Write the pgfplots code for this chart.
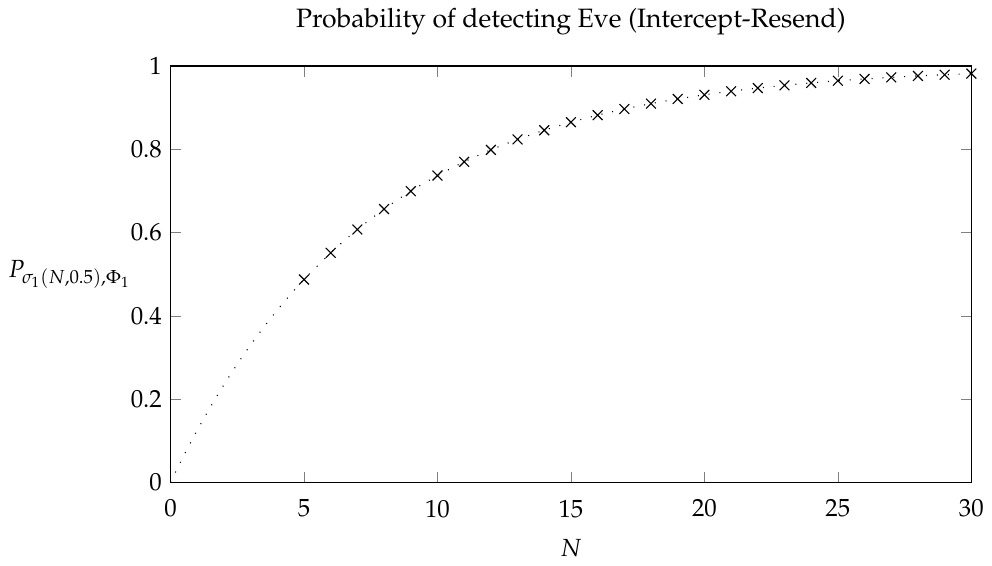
\documentclass[border=0pt]{standalone}
\usepackage[T1]{fontenc}
\usepackage{mathpazo}
\usepackage{pgfplots}
\pgfplotsset{compat=1.18}
\begin{document}
\begin{tikzpicture}
\begin{axis}[
  scale only axis,
  width=11.35cm, height=5.9cm,
  xmin=0, xmax=30, ymin=0, ymax=1,
  xtick={0,5,10,15,20,25,30},
  ytick={0,0.2,0.4,0.6,0.8,1},
  tick align=inside,
  title={Probability of detecting Eve (Intercept-Resend)},
  title style={yshift=3pt, font=\fontsize{10.7}{13}\selectfont},
  xlabel={$N$},
  xlabel style={yshift=-2pt},
  xticklabel style={yshift=-3.5pt},
  ylabel={$P_{\sigma_1(N,0.5),\Phi_1}$},
  ylabel style={rotate=-90, at={(ticklabel cs:0.5)}, anchor=east, xshift=7pt},
  axis line style={line width=0.6pt},
  clip=false,
]
\addplot[black, line width=0.45pt, dash pattern=on 0.4pt off 4pt, smooth, forget plot] coordinates {
(0,0) (0.5,0.0646) (1,0.125) (1.5,0.1815) (2,0.234375) (2.5,0.2838) (3,0.330078) (3.5,0.3731) (4,0.413818) (4.5,0.4516)
(5,0.487091) (6,0.551205) (7,0.607304) (8,0.656391) (9,0.699342) (10,0.736924)
(11,0.769809) (12,0.798583) (13,0.823760) (14,0.845790) (15,0.865066)
(16,0.881933) (17,0.896691) (18,0.909605) (19,0.920904) (20,0.930791)
(21,0.939442) (22,0.947012) (23,0.953635) (24,0.959431) (25,0.964502)
(26,0.968939) (27,0.972822) (28,0.976219) (29,0.979192) (30,0.981793)};
\addplot[only marks, mark=x, mark size=2.8pt, black, mark options={line width=0.45pt}] coordinates {
(5,0.487091) (6,0.551205) (7,0.607304) (8,0.656391) (9,0.699342) (10,0.736924)
(11,0.769809) (12,0.798583) (13,0.823760) (14,0.845790) (15,0.865066)
(16,0.881933) (17,0.896691) (18,0.909605) (19,0.920904) (20,0.930791)
(21,0.939442) (22,0.947012) (23,0.953635) (24,0.959431) (25,0.964502)
(26,0.968939) (27,0.972822) (28,0.976219) (29,0.979192) (30,0.981793)};
\end{axis}
\end{tikzpicture}
\end{document}
